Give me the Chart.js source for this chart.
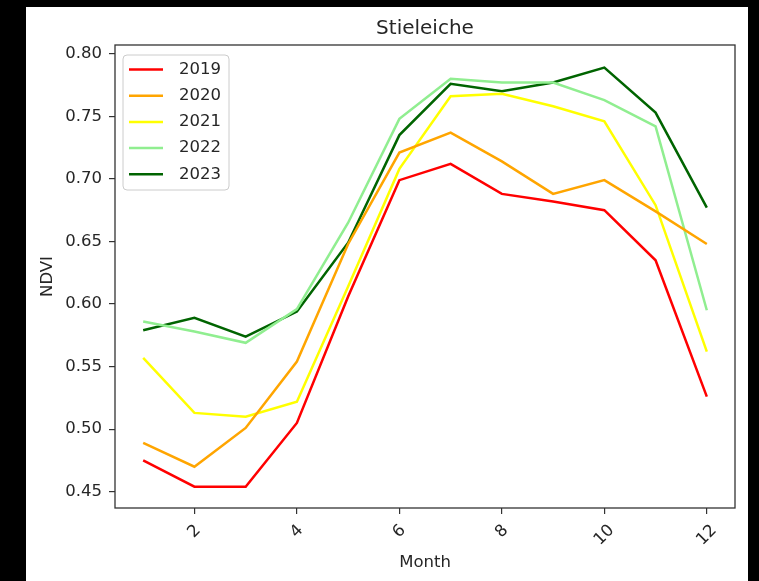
<!DOCTYPE html>
<html>
<head>
<meta charset="utf-8">
<script src="https://cdn.jsdelivr.net/npm/chart.js@4.4.0/dist/chart.umd.min.js"></script>
<style>
  html, body { margin: 0; padding: 0; background: #000; }
  canvas { display: block; }
</style>
</head>
<body>
<canvas id="chart" width="759" height="581"></canvas>
<script>
// NDVI per month
const months = [1, 2, 3, 4, 5, 6, 7, 8, 9, 10, 11, 12];
const years = ['2019', '2020', '2021', '2022', '2023'];
const colors = ['#ff0000', '#ffa500', '#ffff00', '#90ee90', '#006400'];

const ndvi2019 = [0.475, 0.454, 0.454, 0.505, 0.606, 0.699, 0.712, 0.688, 0.682, 0.675, 0.635, 0.526];
const ndvi2020 = [0.489, 0.470, 0.501, 0.554, 0.648, 0.721, 0.737, 0.714, 0.688, 0.699, 0.674, 0.648];
const ndvi2021 = [0.557, 0.513, 0.510, 0.522, 0.614, 0.708, 0.766, 0.768, 0.758, 0.746, 0.679, 0.562];
const ndvi2022 = [0.586, 0.578, 0.569, 0.596, 0.665, 0.748, 0.780, 0.777, 0.777, 0.763, 0.742, 0.595];
const ndvi2023 = [0.579, 0.589, 0.574, 0.594, 0.649, 0.735, 0.776, 0.770, 0.777, 0.789, 0.753, 0.677];

const xTicks = [2, 4, 6, 8, 10, 12];
const yTicks = [0.45, 0.50, 0.55, 0.60, 0.65, 0.70, 0.75, 0.80];

const FONT = 'DejaVu Sans';
const TEXT = '#262626';

const allSeries = [ndvi2019, ndvi2020, ndvi2021, ndvi2022, ndvi2023];
const datasets = allSeries.map((vals, i) => ({
  label: years[i],
  data: months.map((m, j) => ({ x: m, y: vals[j] })),
  borderColor: colors[i],
  backgroundColor: colors[i],
  borderWidth: 2.5,
  pointRadius: 0,
  tension: 0,
  fill: false
}));

// white figure background on the black page
const figureBg = {
  id: 'figureBg',
  beforeDraw(chart) {
    const ctx = chart.ctx;
    ctx.save();
    ctx.fillStyle = '#000';
    ctx.fillRect(0, 0, chart.width, chart.height);
    ctx.fillStyle = '#fff';
    ctx.fillRect(26, 7, 722, 574);
    ctx.restore();
  }
};

// box, title, rotated x tick labels and the in-plot legend
const decorations = {
  id: 'decorations',
  afterDraw(chart) {
    const ctx = chart.ctx;
    const a = chart.chartArea;
    ctx.save();

    // spines
    ctx.strokeStyle = '#333';
    ctx.lineWidth = 1.3;
    ctx.strokeRect(a.left, a.top, a.right - a.left, a.bottom - a.top);

    // title
    ctx.fillStyle = TEXT;
    ctx.font = '20px "' + FONT + '"';
    ctx.textAlign = 'center';
    ctx.textBaseline = 'middle';
    ctx.fillText('Stieleiche', (a.left + a.right) / 2, 29);

    // x tick labels, rotated 45 degrees and centred under each tick
    const xs = chart.scales.x;
    const fs = 16.5;
    ctx.font = fs + 'px "' + FONT + '"';
    xs.ticks.forEach(t => {
      const label = String(t.value);
      const w = ctx.measureText(label).width;
      const boxH = (w + fs * 1.16) * Math.SQRT1_2;
      const cx = xs.getPixelForValue(t.value);
      const cy = a.bottom + 13 + boxH / 2;
      ctx.save();
      ctx.translate(cx, cy);
      ctx.rotate(-Math.PI / 4);
      ctx.textAlign = 'center';
      ctx.textBaseline = 'middle';
      ctx.fillText(label, 0, 0);
      ctx.restore();
    });

    // legend
    const lx = a.left + 8, ly = a.top + 10, lw = 106, lh = 135;
    ctx.beginPath();
    ctx.roundRect(lx, ly, lw, lh, 4);
    ctx.fillStyle = 'rgba(255,255,255,0.8)';
    ctx.fill();
    ctx.strokeStyle = '#cccccc';
    ctx.lineWidth = 1;
    ctx.stroke();
    chart.data.datasets.forEach((ds, i) => {
      const y = ly + 14.5 + i * 26.2;
      ctx.beginPath();
      ctx.moveTo(lx + 6, y);
      ctx.lineTo(lx + 40, y);
      ctx.strokeStyle = ds.borderColor;
      ctx.lineWidth = 2.5;
      ctx.stroke();
      ctx.fillStyle = TEXT;
      ctx.textAlign = 'left';
      ctx.textBaseline = 'middle';
      ctx.fillText(ds.label, lx + 56, y);
    });

    ctx.restore();
  }
};

const ctx = document.getElementById('chart').getContext('2d');
const chart = new Chart(ctx, {
  type: 'line',
  data: { datasets: datasets },
  plugins: [figureBg, decorations],
  options: {
    responsive: false,
    animation: false,
    devicePixelRatio: 1,
    layout: { padding: { left: 0, top: 45, right: 24, bottom: 0 } },
    plugins: {
      legend: { display: false },
      title: { display: false },
      tooltip: { enabled: false }
    },
    scales: {
      x: {
        type: 'linear',
        min: 0.45,
        max: 12.55,
        afterBuildTicks: scale => { scale.ticks = xTicks.map(v => ({ value: v })); },
        afterFit: scale => { scale.height = 73; },
        ticks: { display: false },
        grid: {
          display: true,
          drawOnChartArea: false,
          drawTicks: true,
          tickLength: 6,
          color: '#333',
          lineWidth: 1.2
        },
        border: { display: false },
        title: {
          display: true,
          text: 'Month',
          color: TEXT,
          font: { family: FONT, size: 16.5 },
          padding: { top: 0, bottom: 8 }
        }
      },
      y: {
        min: 0.437,
        max: 0.807,
        afterBuildTicks: scale => { scale.ticks = yTicks.map(v => ({ value: v })); },
        afterFit: scale => { scale.width = 115; },
        ticks: {
          color: TEXT,
          font: { family: FONT, size: 16.5 },
          padding: 7,
          callback: v => v.toFixed(2)
        },
        grid: {
          display: true,
          drawOnChartArea: false,
          drawTicks: true,
          tickLength: 6,
          color: '#333',
          lineWidth: 1.2
        },
        border: { display: false },
        title: {
          display: true,
          text: 'NDVI',
          color: TEXT,
          font: { family: FONT, size: 16.5 },
          padding: { top: 38, bottom: 0 }
        }
      }
    }
  }
});
</script>
</body>
</html>
